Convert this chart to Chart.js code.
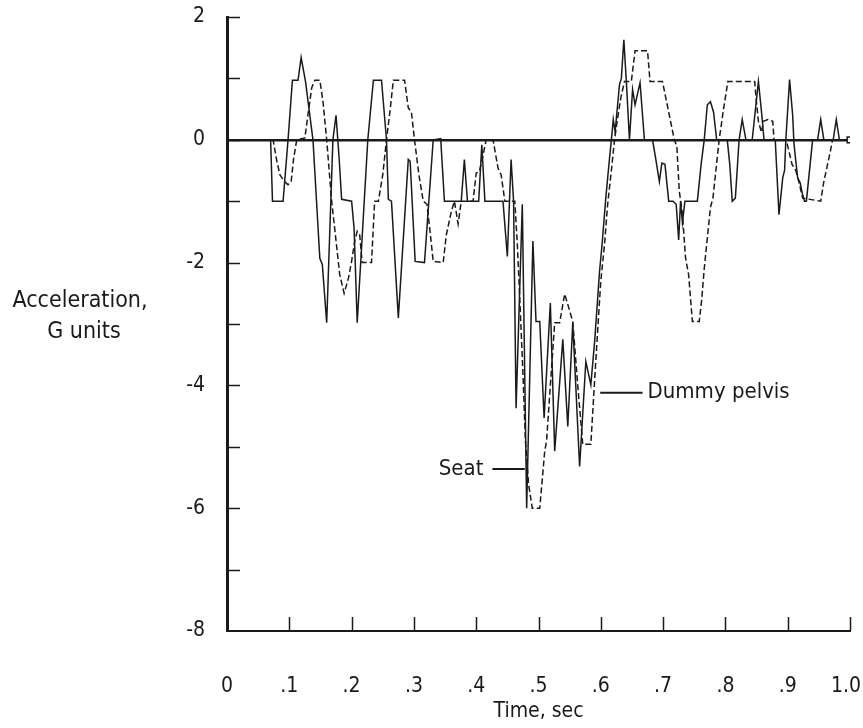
<!DOCTYPE html>
<html lang="en">
<head>
  <meta charset="UTF-8" />
  <title>Acceleration vs time</title>
  <script src="https://cdn.jsdelivr.net/npm/chart.js"></script>
  <style>
    html, body { margin: 0; padding: 0; background: #fff; }
    .chart-box { width: 863px; height: 728px; position: relative; }
  </style>
</head>
<body>
  <div class="chart-box"><canvas id="accelChart"></canvas></div>

  <script>
    // Seat trace (solid)
    const seatTime = [
      0, 0.070, 0.073, 0.090, 0.098, 0.105, 0.114, 0.119, 0.126, 0.138,
      0.149, 0.153, 0.160, 0.170, 0.175, 0.180, 0.184, 0.200, 0.204, 0.209,
      0.226, 0.235, 0.248, 0.256, 0.259, 0.264, 0.275, 0.291, 0.294, 0.302,
      0.317, 0.331, 0.343, 0.349, 0.376, 0.381, 0.386, 0.404, 0.409, 0.414,
      0.443, 0.450, 0.456, 0.460, 0.464, 0.474, 0.481, 0.491, 0.496, 0.502,
      0.509, 0.519, 0.526, 0.539, 0.547, 0.555, 0.566, 0.576, 0.584, 0.590,
      0.598, 0.602, 0.608, 0.614, 0.617, 0.620, 0.623, 0.630, 0.633, 0.637,
      0.641, 0.646, 0.651, 0.655, 0.663, 0.670, 0.683, 0.688, 0.694, 0.698,
      0.703, 0.709, 0.716, 0.721, 0.725, 0.728, 0.731, 0.735, 0.755, 0.761,
      0.766, 0.771, 0.776, 0.781, 0.786, 0.803, 0.807, 0.811, 0.816, 0.822,
      0.827, 0.833, 0.843, 0.853, 0.858, 0.862, 0.880, 0.886, 0.892, 0.895,
      0.897, 0.903, 0.908, 0.910, 0.913, 0.916, 0.920, 0.924, 0.927, 0.930,
      0.940, 0.948, 0.953, 0.958, 0.973, 0.978, 0.983, 0.995
    ];
    const seatG = [
      0, 0, -1.0, -1.0, 0, 0.97, 0.97, 1.34, 0.95, 0,
      -1.93, -2.03, -2.98, 0, 0.40, -0.30, -0.97, -1.0, -1.44, -2.98,
      0, 0.97, 0.97, 0, -0.97, -1.0, -2.9, -0.32, -0.35, -1.98,
      -2.0, 0, 0.02, -1.0, -1.0, -0.32, -1.0, -1.0, -0.08, -1.0,
      -1.0, -1.9, -0.32, -1.0, -4.37, -1.05, -6.0, -1.65, -2.96, -2.96,
      -4.53, -2.66, -5.07, -3.25, -4.67, -2.98, -5.32, -3.61, -3.99, -3.3,
      -2.14, -1.71, -0.95, -0.3, 0, 0.33, 0.13, 0.9, 1.0, 1.63,
      0.95, 0, 0.82, 0.57, 0.93, 0, 0, -0.3, -0.68, -0.38,
      -0.4, -1.0, -1.0, -1.05, -1.63, -1.0, -1.35, -1.0, -1.0, -0.4,
      0, 0.57, 0.62, 0.45, 0, 0, -0.4, -1.0, -0.95, 0,
      0.33, 0, 0, 0.95, 0.45, 0, 0, -1.22, -0.62, -0.5,
      0, 0.98, 0.4, -0.05, -0.35, -0.62, -0.7, -0.9, -1.0, -1.0,
      0, 0, 0.33, 0, 0, 0.33, 0, 0
    ];

    // Dummy pelvis trace (dashed)
    const pelvisTime = [
      0, 0.074, 0.080, 0.085, 0.092, 0.098, 0.103, 0.107, 0.112, 0.125,
      0.130, 0.136, 0.141, 0.149, 0.154, 0.160, 0.168, 0.174, 0.181, 0.188,
      0.195, 0.200, 0.205, 0.209, 0.213, 0.217, 0.232, 0.237, 0.243, 0.250,
      0.256, 0.262, 0.267, 0.285, 0.291, 0.296, 0.301, 0.308, 0.315, 0.321,
      0.326, 0.331, 0.347, 0.352, 0.360, 0.365, 0.371, 0.376, 0.395, 0.400,
      0.405, 0.410, 0.416, 0.427, 0.435, 0.440, 0.446, 0.462, 0.466, 0.470,
      0.475, 0.479, 0.484, 0.490, 0.502, 0.510, 0.513, 0.519, 0.526, 0.534,
      0.542, 0.549, 0.555, 0.563, 0.571, 0.584, 0.589, 0.595, 0.600, 0.606,
      0.611, 0.617, 0.622, 0.627, 0.632, 0.638, 0.649, 0.655, 0.675, 0.679,
      0.699, 0.710, 0.718, 0.722, 0.726, 0.731, 0.736, 0.741, 0.747, 0.758,
      0.762, 0.766, 0.776, 0.780, 0.790, 0.797, 0.804, 0.847, 0.849, 0.853,
      0.858, 0.861, 0.868, 0.876, 0.878, 0.897, 0.900, 0.907, 0.913, 0.919,
      0.924, 0.953, 0.958, 0.963, 0.969, 0.972, 0.995
    ];
    const pelvisG = [
      0, 0, -0.35, -0.57, -0.68, -0.73, -0.68, -0.3, 0, 0.03,
      0.41, 0.85, 0.97, 0.97, 0.63, 0, -1.0, -1.55, -2.2, -2.5,
      -2.25, -1.98, -1.65, -1.49, -1.55, -2.0, -2.0, -1.0, -1.0, -0.57,
      0, 0.5, 0.97, 0.97, 0.52, 0.45, 0, -0.57, -1.0, -1.05,
      -1.5, -1.98, -2.0, -1.55, -1.17, -1.0, -1.37, -1.0, -1.0, -0.54,
      -0.52, -0.3, 0, 0, -0.46, -0.57, -1.0, -1.0, -1.7, -2.6,
      -3.8, -4.9, -5.6, -6.0, -6.0, -5.07, -4.9, -4.0, -2.98, -2.98,
      -2.51, -2.75, -2.96, -4.0, -4.96, -4.96, -4.1, -3.1, -2.3, -1.7,
      -1.05, -0.5, 0, 0.35, 0.68, 0.95, 0.95, 1.45, 1.45, 0.95,
      0.95, 0.4, 0, -0.1, -0.84, -1.2, -1.92, -2.2, -2.96, -2.96,
      -2.6, -2.1, -1.1, -0.95, 0, 0.5, 0.95, 0.95, 0.7, 0.3,
      0.12, 0.3, 0.33, 0.3, 0, 0, -0.1, -0.4, -0.5, -0.73,
      -0.95, -1.0, -0.68, -0.45, -0.16, 0, 0
    ];

    const xTicks = [0, 0.1, 0.2, 0.3, 0.4, 0.5, 0.6, 0.7, 0.8, 0.9, 1.0];
    const xTickLabels = ['0', '.1', '.2', '.3', '.4', '.5', '.6', '.7', '.8', '.9', '1.0'];
    const yTicks = [2, 1, 0, -1, -2, -3, -4, -5, -6, -7, -8];
    const yTickLabels = ['2', '', '0', '', '-2', '', '-4', '', '-6', '', '-8'];

    // label text, where its pointer starts/ends (time), and at what G level
    const curveLabels = [
      { text: 'Seat', lineFrom: 0.426, lineTo: 0.478, g: -5.36, side: 'left' },
      { text: 'Dummy pelvis', lineFrom: 0.599, lineTo: 0.667, g: -4.12, side: 'right' }
    ];

    const FONT = "'DejaVu Sans Condensed', 'DejaVu Sans', sans-serif";
    const INK = '#1a1a1a';

    const toPoints = (ts, gs) => ts.map((t, i) => ({ x: t, y: gs[i] }));

    const paperExtras = {
      id: 'paperExtras',
      afterDraw(chart) {
        const { ctx, chartArea, scales, width } = chart;
        const x = scales.x, y = scales.y;
        ctx.save();
        ctx.strokeStyle = INK;
        ctx.lineWidth = 1.5;
        // inward tick marks
        xTicks.forEach(v => {
          if (v === 0) return;
          const px = Math.round(x.getPixelForValue(v)) + 0.5;
          ctx.beginPath();
          ctx.moveTo(px, chartArea.bottom);
          ctx.lineTo(px, chartArea.bottom - 14);
          ctx.stroke();
        });
        yTicks.forEach(v => {
          if (v === -8) return;
          const py = Math.round(y.getPixelForValue(v)) + 0.5;
          ctx.beginPath();
          ctx.moveTo(chartArea.left, py);
          ctx.lineTo(chartArea.left + 13, py);
          ctx.stroke();
        });

        // x tick labels (kept inside the canvas at the right edge)
        ctx.fillStyle = INK;
        ctx.font = '21px ' + FONT;
        ctx.textAlign = 'center';
        ctx.textBaseline = 'middle';
        xTicks.forEach((v, i) => {
          const w = ctx.measureText(xTickLabels[i]).width;
          const px = Math.min(x.getPixelForValue(v), width - 2 - w / 2);
          ctx.fillText(xTickLabels[i], px, 687);
        });

        // curve labels with pointer lines
        ctx.font = '22px ' + FONT;
        ctx.lineWidth = 2;
        curveLabels.forEach(l => {
          const py = y.getPixelForValue(l.g);
          const x1 = x.getPixelForValue(l.lineFrom);
          const x2 = x.getPixelForValue(l.lineTo);
          ctx.beginPath();
          ctx.moveTo(x1, py);
          ctx.lineTo(x2, py);
          ctx.stroke();
          if (l.side === 'left') {
            ctx.textAlign = 'right';
            ctx.fillText(l.text, x1 - 9, py);
          } else {
            ctx.textAlign = 'left';
            ctx.fillText(l.text, x2 + 5, py);
          }
        });

        // axis titles
        ctx.font = '23px ' + FONT;
        ctx.textAlign = 'center';
        ctx.fillText('Acceleration,', 80, 301);
        ctx.fillText('G units', 84, 332);
        ctx.font = '21px ' + FONT;
        ctx.fillText('Time, sec', (chartArea.left + chartArea.right) / 2, 712);
        ctx.restore();
      }
    };

    new Chart(document.getElementById('accelChart').getContext('2d'), {
      type: 'line',
      data: {
        datasets: [
          {
            label: 'Seat',
            data: toPoints(seatTime, seatG),
            borderColor: INK,
            borderWidth: 1.5,
            pointRadius: 0,
            tension: 0
          },
          {
            label: 'Dummy pelvis',
            data: toPoints(pelvisTime, pelvisG),
            borderColor: INK,
            borderWidth: 1.5,
            borderDash: [6, 3],
            pointRadius: 0,
            tension: 0
          },
          {
            label: 'end',
            data: [{ x: 1.0, y: 0 }],
            showLine: false,
            pointStyle: 'rect',
            pointRadius: 4,
            backgroundColor: '#fff',
            borderColor: INK,
            borderWidth: 1.5
          }
        ]
      },
      options: {
        responsive: true,
        maintainAspectRatio: false,
        animation: false,
        layout: { padding: { top: 17, right: 13, left: 0, bottom: 0 } },
        plugins: {
          legend: { display: false },
          tooltip: { enabled: false }
        },
        scales: {
          x: {
            type: 'linear',
            min: 0,
            max: 1.0,
            afterFit: s => {
              s.height = 97;
              s.paddingLeft = 0; s.paddingRight = 0;
            },
            afterBuildTicks: s => { s.ticks = xTicks.map(v => ({ value: v })); },
            ticks: { display: false },
            grid: { display: false, drawTicks: false },
            border: { display: true, color: INK, width: 2 }
          },
          y: {
            min: -8,
            max: 2,
            afterFit: s => {
              s.width = 227;
              s.paddingTop = 0; s.paddingBottom = 0;
            },
            afterBuildTicks: s => { s.ticks = yTicks.map(v => ({ value: v })); },
            ticks: {
              callback: v => yTickLabels[yTicks.indexOf(v)],
              color: INK,
              font: { family: FONT, size: 21 },
              padding: 22,
              autoSkip: false
            },
            grid: {
              drawTicks: false,
              color: c => (c.tick && c.tick.value === 0) ? INK : 'rgba(0,0,0,0)',
              lineWidth: c => (c.tick && c.tick.value === 0) ? 2.5 : 0
            },
            border: { display: true, color: INK, width: 3 }
          }
        }
      },
      plugins: [paperExtras]
    });
  </script>
</body>
</html>
